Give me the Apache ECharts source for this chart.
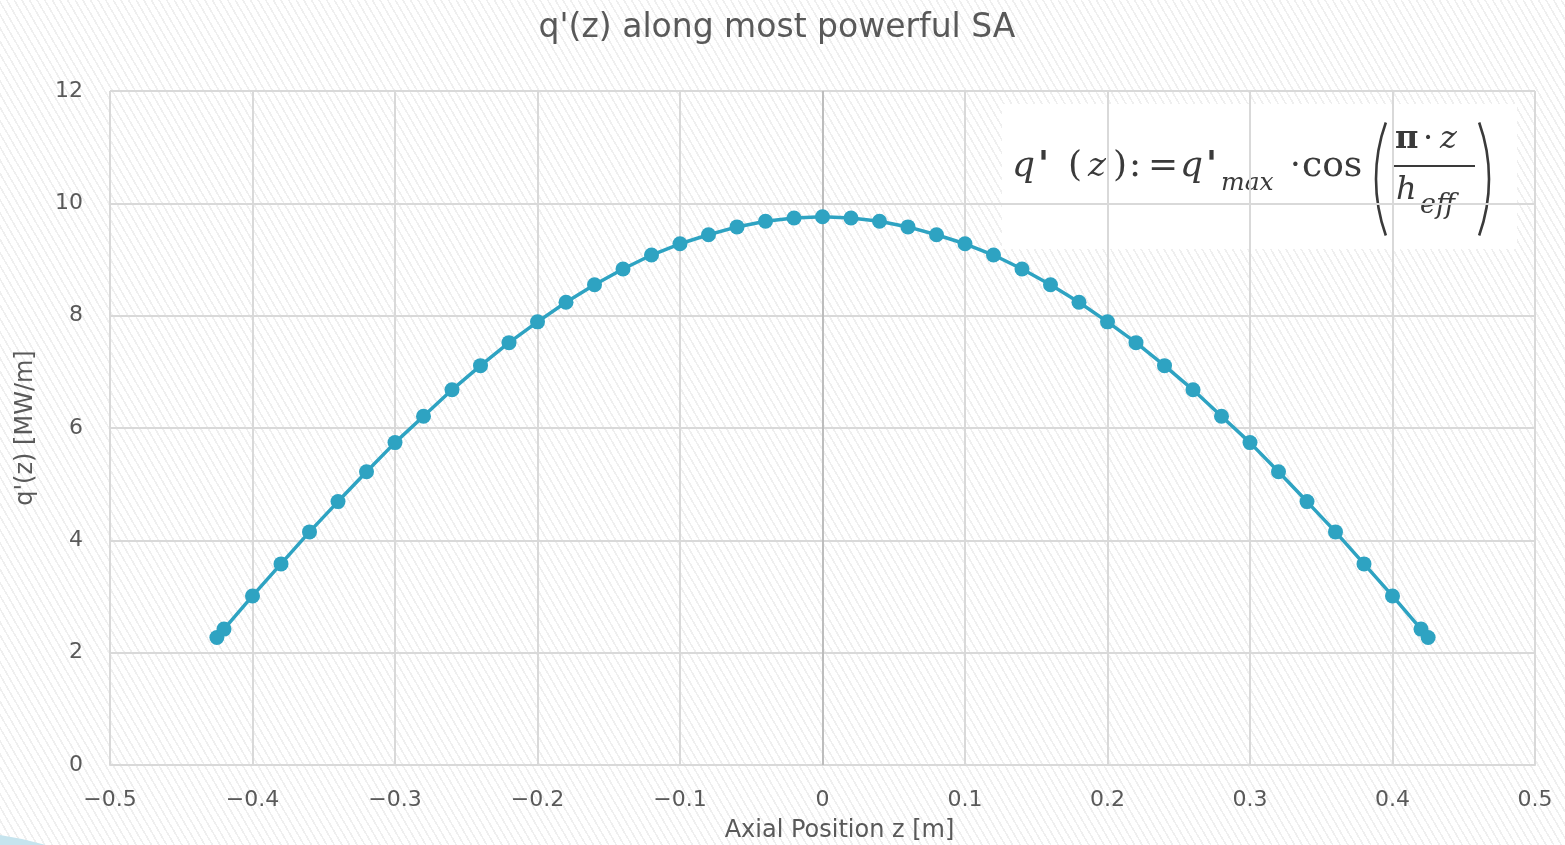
<!DOCTYPE html>
<html>
<head>
<meta charset="utf-8">
<script src="https://cdn.jsdelivr.net/npm/echarts@6/dist/echarts.min.js"></script>
<style>
  html, body { margin: 0; padding: 0; }
  body {
    background: repeating-linear-gradient(60deg, #ffffff 0px, #ffffff 5px, #efefef 5px, #efefef 6.6px);
  }
  #main { width: 1565px; height: 845px; }
</style>
</head>
<body>
<div id="main"></div>
<script>
// axial positions [m]
var zPos = [-0.425, -0.42, -0.4, -0.38, -0.36, -0.34, -0.32, -0.3, -0.28, -0.26, -0.24, -0.22, -0.2, -0.18, -0.16, -0.14, -0.12, -0.1, -0.08, -0.06, -0.04, -0.02, 0,
  0.02, 0.04, 0.06, 0.08, 0.1, 0.12, 0.14, 0.16, 0.18, 0.2, 0.22, 0.24, 0.26, 0.28, 0.3, 0.32, 0.34, 0.36, 0.38, 0.4, 0.42, 0.425];
// linear power q'(z) [MW/m]
var qLin = [2.27, 2.42, 3.01, 3.58, 4.15, 4.69, 5.22, 5.74, 6.21, 6.68, 7.11, 7.52, 7.89, 8.24, 8.55, 8.83, 9.08, 9.28, 9.44, 9.58, 9.68, 9.74, 9.76,
  9.74, 9.68, 9.58, 9.44, 9.28, 9.08, 8.83, 8.55, 8.24, 7.89, 7.52, 7.11, 6.68, 6.21, 5.74, 5.22, 4.69, 4.15, 3.58, 3.01, 2.42, 2.27];

var xTicks = { min: -0.5, max: 0.5, step: 0.1 };
var yTicks = { min: 0, max: 12, step: 2 };

var seriesData = zPos.map(function (z, i) { return [z, qLin[i]]; });

var labelColor = '#595959';
var gridColor = '#d9d9d9';
var lineColor = '#2ea3c2';
var ink = '#3a3a3a';
var mathFont = '"DejaVu Serif", serif';

function fmtX(v) {
  if (Math.abs(v) < 1e-9) return '0';
  return v.toFixed(1).replace('-', '\u2212');
}

function mtext(x, y, s, size, extra) {
  var st = { text: s, fontFamily: mathFont, fontSize: size, fill: ink, verticalAlign: 'middle' };
  for (var k in extra) st[k] = extra[k];
  return { type: 'text', x: x, y: y, style: st };
}

var primeRich = {
  i: { fontFamily: mathFont, fontStyle: 'italic', fontSize: 36, fill: ink },
  b: { fontFamily: mathFont, fontWeight: 'bold', fontSize: 36, fill: ink, padding: [0, 0, 0, 3] }
};

var chart = echarts.init(document.getElementById('main'));

var option = {
  backgroundColor: 'transparent',
  animation: false,
  title: {
    text: "q'(z) along most powerful SA",
    left: 777,
    textAlign: 'center',
    top: 12,
    padding: 0,
    textStyle: { fontFamily: 'DejaVu Sans', fontSize: 33, fontWeight: 'normal', color: labelColor }
  },
  grid: { left: 110, right: 30, top: 91, bottom: 80, outerBoundsMode: 'none' },
  xAxis: {
    type: 'value',
    min: xTicks.min,
    max: xTicks.max,
    interval: xTicks.step,
    name: 'Axial Position z [m]',
    nameLocation: 'middle',
    nameGap: 54,
    nameTextStyle: { fontFamily: 'DejaVu Sans', fontSize: 24, color: labelColor, padding: [0, 0, 0, 34] },
    axisLine: { lineStyle: { color: gridColor, width: 2 } },
    axisTick: { show: false },
    axisLabel: { formatter: fmtX, margin: 24, fontFamily: 'DejaVu Sans', fontSize: 22, color: labelColor },
    splitLine: { show: true, lineStyle: { color: gridColor, width: 2 } }
  },
  yAxis: {
    type: 'value',
    min: yTicks.min,
    max: yTicks.max,
    interval: yTicks.step,
    name: "q'(z) [MW/m]",
    nameLocation: 'middle',
    nameGap: 72,
    nameTextStyle: { fontFamily: 'DejaVu Sans', fontSize: 24, color: labelColor },
    axisLine: { show: true, lineStyle: { color: gridColor, width: 2 } },
    axisTick: { show: false },
    axisLabel: { margin: 27, fontFamily: 'DejaVu Sans', fontSize: 22, color: labelColor },
    splitLine: { show: true, lineStyle: { color: gridColor, width: 2 } }
  },
  series: [{
    type: 'line',
    data: seriesData,
    symbol: 'circle',
    symbolSize: 15,
    itemStyle: { color: lineColor },
    lineStyle: { color: lineColor, width: 3.5 },
    z: 3,
    markLine: {
      silent: true,
      symbol: 'none',
      z: 1,
      label: { show: false },
      lineStyle: { color: '#bdbdbd', width: 2, type: 'solid' },
      data: [{ xAxis: 0 }]
    }
  }],
  graphic: [
    // swoosh at the lower left corner
    {
      type: 'polygon', silent: true, z: 0,
      shape: { points: [[0, 835], [22, 839], [46, 845], [0, 845]] },
      style: { fill: '#c6e4ee' }
    },
    // formula panel
    {
      type: 'group', z: 10,
      children: [
        { type: 'rect', shape: { x: 1002, y: 104, width: 515, height: 145 }, style: { fill: '#ffffff' } },
        { type: 'text', x: 1012, y: 167, style: { text: '{i|q}{b|\'}', rich: primeRich, verticalAlign: 'middle' } },
        mtext(1068, 167, '(', 36),
        mtext(1088, 167, 'z', 34, { fontStyle: 'italic' }),
        mtext(1113, 167, ')', 36),
        mtext(1129, 167, ':', 36),
        mtext(1148, 167, '=', 36),
        { type: 'text', x: 1180, y: 167, style: { text: '{i|q}{b|\'}', rich: primeRich, verticalAlign: 'middle' } },
        mtext(1221, 183, 'max', 25, { fontStyle: 'italic' }),
        mtext(1290, 167, '\u00b7', 34),
        mtext(1302, 167, 'cos', 36),
        { type: 'arc', shape: { cx: 1543, cy: 179, r: 167, startAngle: Math.PI - 0.345, endAngle: Math.PI + 0.345 }, style: { stroke: ink, lineWidth: 2.6, fill: null } },
        { type: 'arc', shape: { cx: 1322, cy: 179, r: 167, startAngle: -0.345, endAngle: 0.345 }, style: { stroke: ink, lineWidth: 2.6, fill: null } },
        mtext(1395, 140, '\u03c0', 32, { fontWeight: 'bold' }),
        mtext(1423, 140, '\u00b7', 32),
        mtext(1440, 140, 'z', 32, { fontStyle: 'italic' }),
        { type: 'line', shape: { x1: 1392, y1: 166, x2: 1475, y2: 166 }, style: { stroke: ink, lineWidth: 2 } },
        mtext(1396, 191, 'h', 32, { fontStyle: 'italic' }),
        mtext(1420, 206, 'eff', 27, { fontStyle: 'italic' })
      ]
    }
  ]
};

chart.setOption(option);
</script>
</body>
</html>
